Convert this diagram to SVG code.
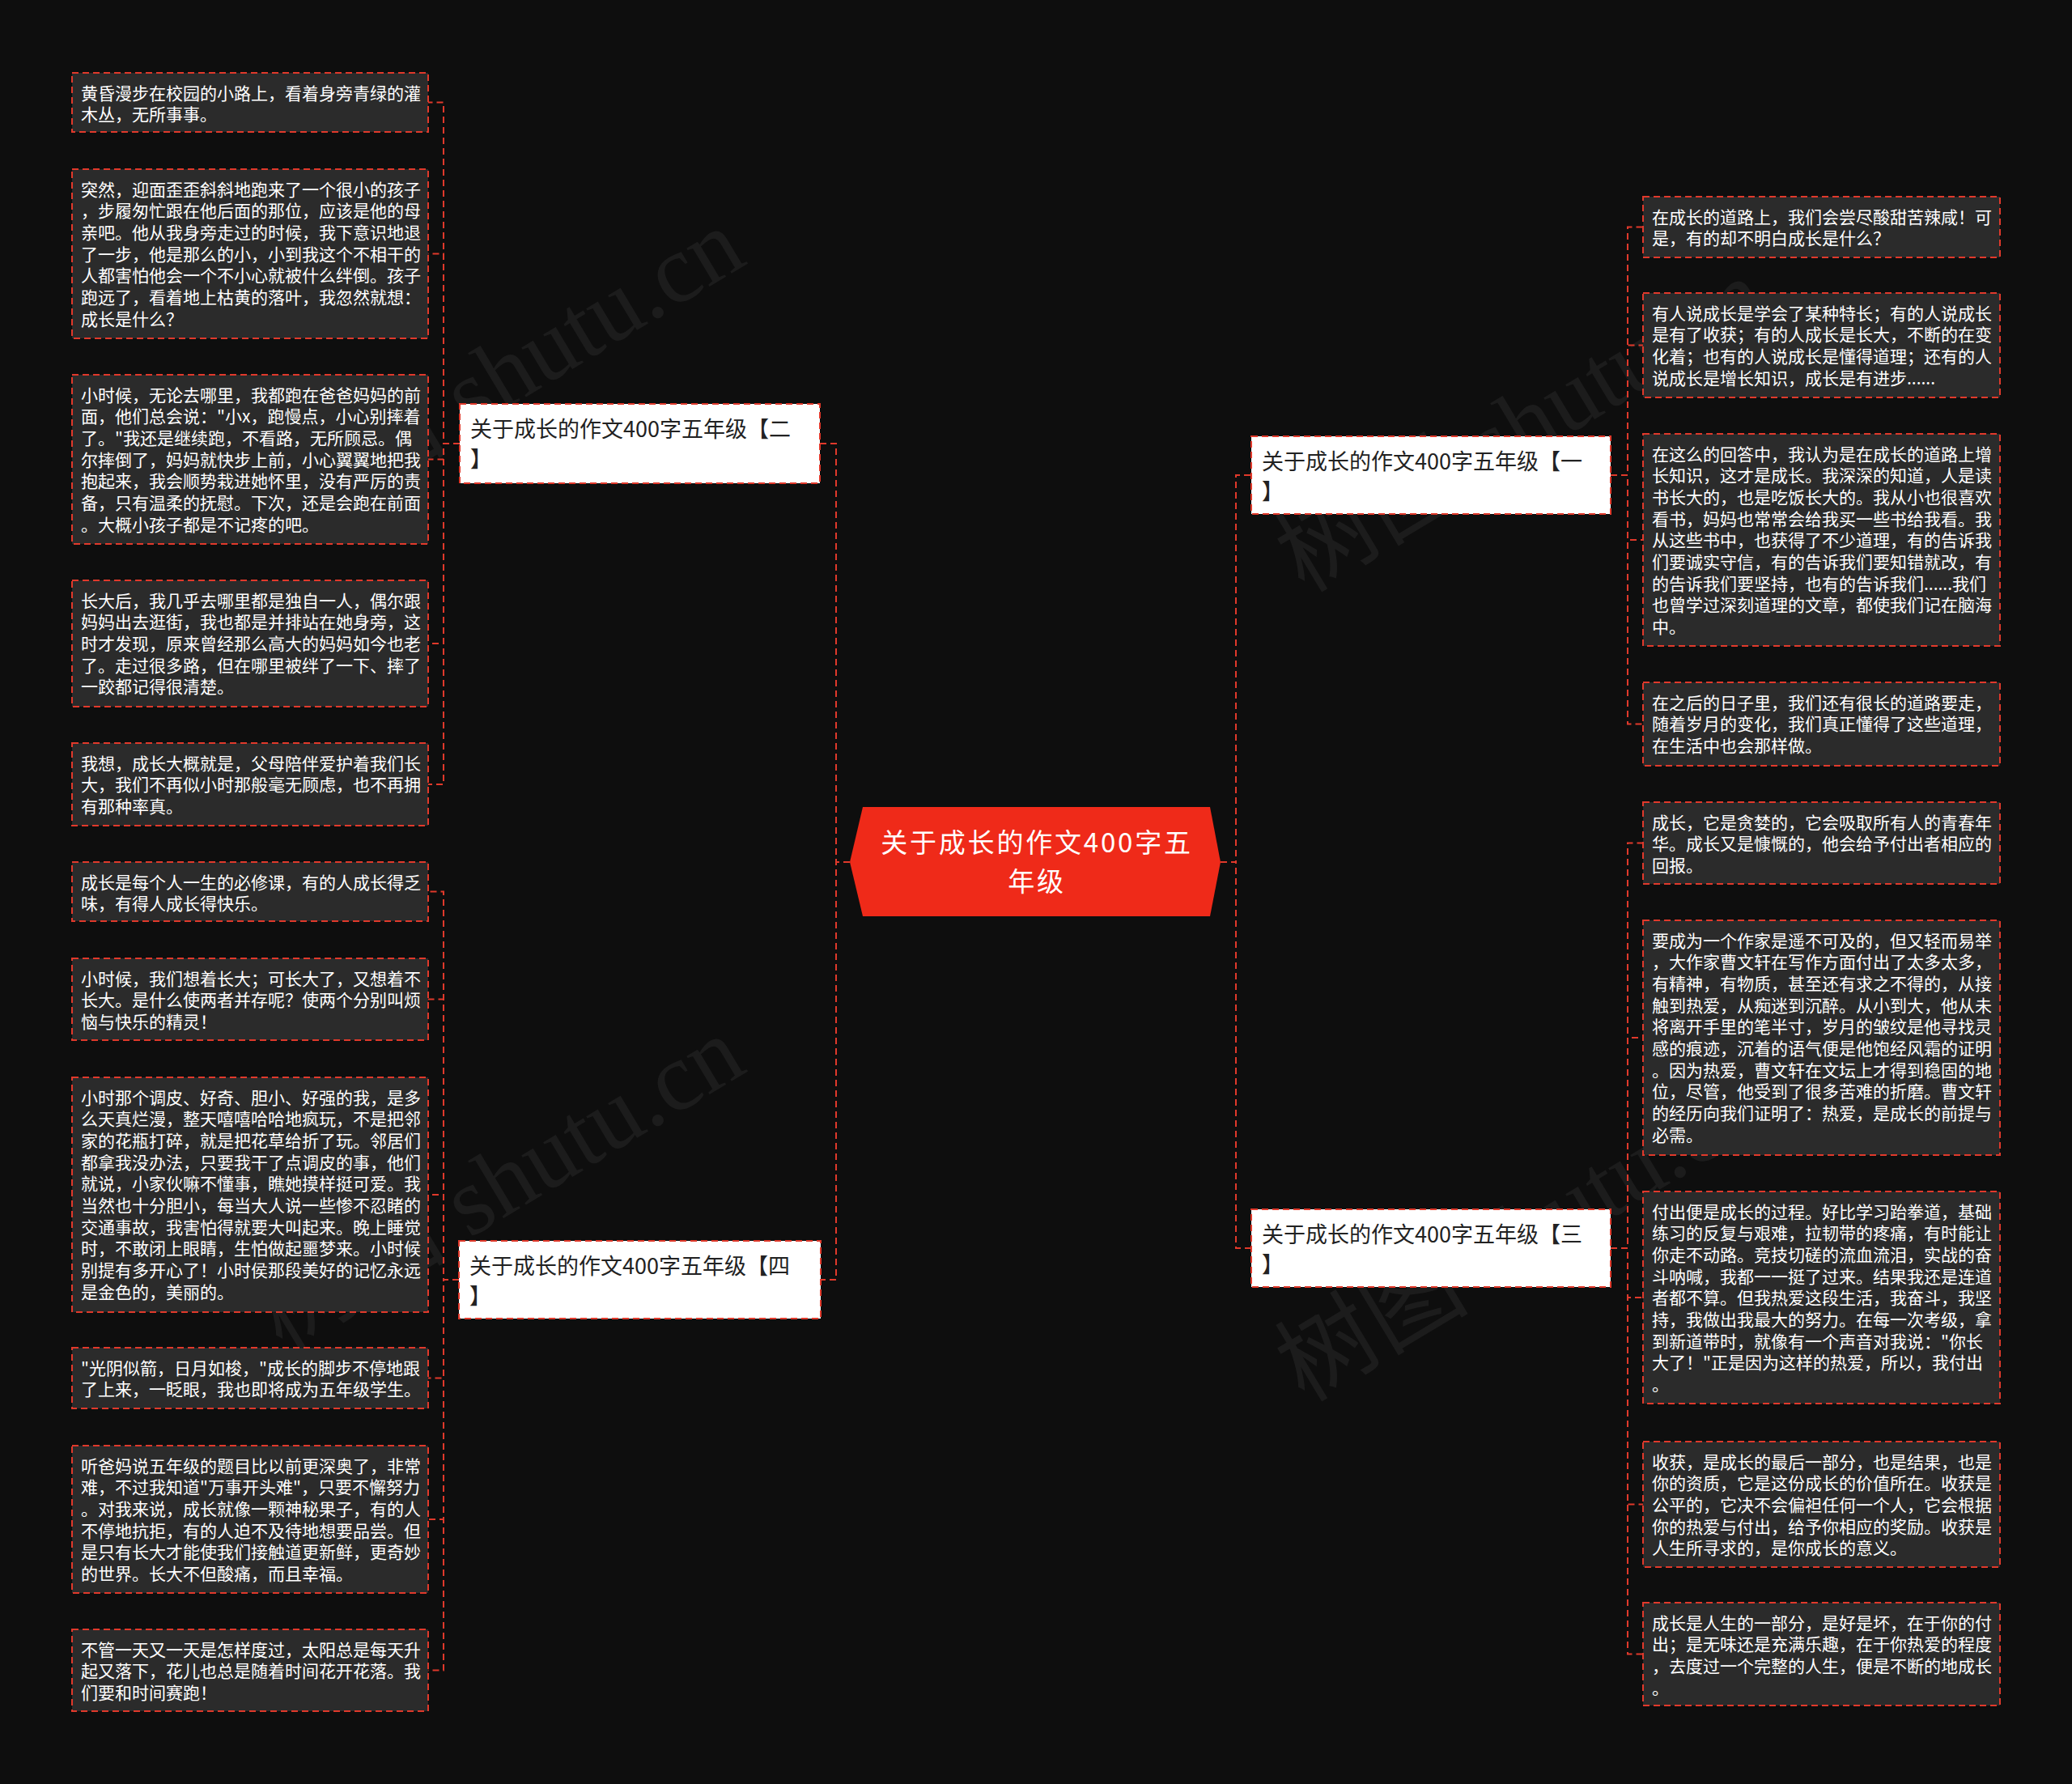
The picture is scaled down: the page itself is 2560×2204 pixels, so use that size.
<svg xmlns="http://www.w3.org/2000/svg" width="2560" height="2204" viewBox="0 0 2560 2204">
<style>
.bg{fill:#0e0e0e}
.wm{fill:#ffffff;fill-opacity:0.06;font-family:"Liberation Serif","Noto Sans CJK SC",serif;font-size:120px}
.leaf rect{fill:#2b2b2b;stroke:#e0392b;stroke-width:2;stroke-dasharray:8 5}
.leaf text{fill:#ffffff;font-family:"Noto Sans CJK SC","Noto Sans",sans-serif;font-size:21px}
.branch rect{fill:#ffffff;stroke:#e0392b;stroke-width:2;stroke-dasharray:8 5}
.branch text{fill:#222222;font-family:"Noto Sans CJK SC","Noto Sans",sans-serif;font-size:27px}
.root polygon{fill:#ef2a19}
.root text{fill:#ffffff;font-family:"Noto Sans CJK SC","Noto Sans",sans-serif;font-size:33px;letter-spacing:2.8px;text-anchor:middle}
.edges path{fill:none;stroke:#e0392b;stroke-width:2;stroke-dasharray:8 5}
</style>
<rect class="bg" x="0" y="0" width="2560" height="2204"/>
<g id="watermarks">
<text class="wm" transform="translate(637,498) rotate(-31)" text-anchor="middle">树图 shutu.cn</text>
<text class="wm" transform="translate(637,1496) rotate(-31)" text-anchor="middle">树图 shutu.cn</text>
<text class="wm" transform="translate(1900,560) rotate(-31)" text-anchor="middle">树图 shutu.cn</text>
<text class="wm" transform="translate(1900,1560) rotate(-31)" text-anchor="middle">树图 shutu.cn</text>
</g>
<g id="connectors" class="edges">
<path d="M1050,1065 H1033 V548 H1013"/>
<path d="M1050,1065 H1033 V1581 H1014"/>
<path d="M1508,1065 H1527 V587 H1546"/>
<path d="M1508,1065 H1527 V1542 H1546"/>
<path d="M568,548 H548 V126.5 H529"/>
<path d="M568,548 H548 V313.5 H529"/>
<path d="M568,548 H548 V567.5 H529"/>
<path d="M568,548 H548 V795 H529"/>
<path d="M568,548 H548 V969 H529"/>
<path d="M567,1581 H548 V1101.5 H529"/>
<path d="M567,1581 H548 V1234.5 H529"/>
<path d="M567,1581 H548 V1476 H529"/>
<path d="M567,1581 H548 V1702.5 H529"/>
<path d="M567,1581 H548 V1877 H529"/>
<path d="M567,1581 H548 V2063.5 H529"/>
<path d="M1990,587 H2011 V280.5 H2030"/>
<path d="M1990,587 H2011 V426.5 H2030"/>
<path d="M1990,587 H2011 V667 H2030"/>
<path d="M1990,587 H2011 V894.5 H2030"/>
<path d="M1990,1542 H2011 V1041.5 H2030"/>
<path d="M1990,1542 H2011 V1282 H2030"/>
<path d="M1990,1542 H2011 V1603 H2030"/>
<path d="M1990,1542 H2011 V1858.5 H2030"/>
<path d="M1990,1542 H2011 V2043.5 H2030"/>
</g>
<g id="root" class="root">
<polygon points="1050,1065 1066,997 1495,997 1508,1065 1495,1132 1066,1132"/>
<text x="1281" y="1053"><tspan x="1281">关于成长的作文400字五</tspan><tspan x="1281" dy="48">年级</tspan></text>
</g>
<g id="b2" class="branch">
<rect x="568" y="499" width="445" height="98"/>
<text x="581" y="540"><tspan x="581">关于成长的作文400字五年级【二</tspan><tspan x="581" dy="37">】</tspan></text>
</g>
<g id="b4" class="branch">
<rect x="567" y="1533" width="447" height="96"/>
<text x="580" y="1574"><tspan x="580">关于成长的作文400字五年级【四</tspan><tspan x="580" dy="37">】</tspan></text>
</g>
<g id="b1" class="branch">
<rect x="1546" y="539" width="444" height="96"/>
<text x="1559" y="580"><tspan x="1559">关于成长的作文400字五年级【一</tspan><tspan x="1559" dy="37">】</tspan></text>
</g>
<g id="b3" class="branch">
<rect x="1546" y="1494" width="444" height="96"/>
<text x="1559" y="1535"><tspan x="1559">关于成长的作文400字五年级【三</tspan><tspan x="1559" dy="37">】</tspan></text>
</g>
<g id="L1" class="leaf">
<rect x="89" y="90" width="440" height="73"/>
<text x="100" y="122.5"><tspan x="100">黄昏漫步在校园的小路上，看着身旁青绿的灌</tspan><tspan x="100" dy="26.7">木丛，无所事事。</tspan></text>
</g>
<g id="L2" class="leaf">
<rect x="89" y="209" width="440" height="209"/>
<text x="100" y="241.5"><tspan x="100">突然，迎面歪歪斜斜地跑来了一个很小的孩子</tspan><tspan x="100" dy="26.7">，步履匆忙跟在他后面的那位，应该是他的母</tspan><tspan x="100" dy="26.7">亲吧。他从我身旁走过的时候，我下意识地退</tspan><tspan x="100" dy="26.7">了一步，他是那么的小，小到我这个不相干的</tspan><tspan x="100" dy="26.7">人都害怕他会一个不小心就被什么绊倒。孩子</tspan><tspan x="100" dy="26.7">跑远了，看着地上枯黄的落叶，我忽然就想：</tspan><tspan x="100" dy="26.7">成长是什么？</tspan></text>
</g>
<g id="L3" class="leaf">
<rect x="89" y="463" width="440" height="209"/>
<text x="100" y="495.5"><tspan x="100">小时候，无论去哪里，我都跑在爸爸妈妈的前</tspan><tspan x="100" dy="26.7">面，他们总会说："小x，跑慢点，小心别摔着</tspan><tspan x="100" dy="26.7">了。"我还是继续跑，不看路，无所顾忌。偶</tspan><tspan x="100" dy="26.7">尔摔倒了，妈妈就快步上前，小心翼翼地把我</tspan><tspan x="100" dy="26.7">抱起来，我会顺势栽进她怀里，没有严厉的责</tspan><tspan x="100" dy="26.7">备，只有温柔的抚慰。下次，还是会跑在前面</tspan><tspan x="100" dy="26.7">。大概小孩子都是不记疼的吧。</tspan></text>
</g>
<g id="L4" class="leaf">
<rect x="89" y="717" width="440" height="156"/>
<text x="100" y="749.5"><tspan x="100">长大后，我几乎去哪里都是独自一人，偶尔跟</tspan><tspan x="100" dy="26.7">妈妈出去逛街，我也都是并排站在她身旁，这</tspan><tspan x="100" dy="26.7">时才发现，原来曾经那么高大的妈妈如今也老</tspan><tspan x="100" dy="26.7">了。走过很多路，但在哪里被绊了一下、摔了</tspan><tspan x="100" dy="26.7">一跤都记得很清楚。</tspan></text>
</g>
<g id="L5" class="leaf">
<rect x="89" y="918" width="440" height="102"/>
<text x="100" y="950.5"><tspan x="100">我想，成长大概就是，父母陪伴爱护着我们长</tspan><tspan x="100" dy="26.7">大，我们不再似小时那般毫无顾虑，也不再拥</tspan><tspan x="100" dy="26.7">有那种率真。</tspan></text>
</g>
<g id="L6" class="leaf">
<rect x="89" y="1065" width="440" height="73"/>
<text x="100" y="1097.5"><tspan x="100">成长是每个人一生的必修课，有的人成长得乏</tspan><tspan x="100" dy="26.7">味，有得人成长得快乐。</tspan></text>
</g>
<g id="L7" class="leaf">
<rect x="89" y="1184" width="440" height="101"/>
<text x="100" y="1216.5"><tspan x="100">小时候，我们想着长大；可长大了，又想着不</tspan><tspan x="100" dy="26.7">长大。是什么使两者并存呢？使两个分别叫烦</tspan><tspan x="100" dy="26.7">恼与快乐的精灵！</tspan></text>
</g>
<g id="L8" class="leaf">
<rect x="89" y="1331" width="440" height="290"/>
<text x="100" y="1363.5"><tspan x="100">小时那个调皮、好奇、胆小、好强的我，是多</tspan><tspan x="100" dy="26.7">么天真烂漫，整天嘻嘻哈哈地疯玩，不是把邻</tspan><tspan x="100" dy="26.7">家的花瓶打碎，就是把花草给折了玩。邻居们</tspan><tspan x="100" dy="26.7">都拿我没办法，只要我干了点调皮的事，他们</tspan><tspan x="100" dy="26.7">就说，小家伙嘛不懂事，瞧她摸样挺可爱。我</tspan><tspan x="100" dy="26.7">当然也十分胆小，每当大人说一些惨不忍睹的</tspan><tspan x="100" dy="26.7">交通事故，我害怕得就要大叫起来。晚上睡觉</tspan><tspan x="100" dy="26.7">时，不敢闭上眼睛，生怕做起噩梦来。小时候</tspan><tspan x="100" dy="26.7">别提有多开心了！小时侯那段美好的记忆永远</tspan><tspan x="100" dy="26.7">是金色的，美丽的。</tspan></text>
</g>
<g id="L9" class="leaf">
<rect x="89" y="1665" width="440" height="75"/>
<text x="100" y="1697.5"><tspan x="100">"光阴似箭，日月如梭，"成长的脚步不停地跟</tspan><tspan x="100" dy="26.7">了上来，一眨眼，我也即将成为五年级学生。</tspan></text>
</g>
<g id="L10" class="leaf">
<rect x="89" y="1786" width="440" height="182"/>
<text x="100" y="1818.5"><tspan x="100">听爸妈说五年级的题目比以前更深奥了，非常</tspan><tspan x="100" dy="26.7">难，不过我知道"万事开头难"，只要不懈努力</tspan><tspan x="100" dy="26.7">。对我来说，成长就像一颗神秘果子，有的人</tspan><tspan x="100" dy="26.7">不停地抗拒，有的人迫不及待地想要品尝。但</tspan><tspan x="100" dy="26.7">是只有长大才能使我们接触道更新鲜，更奇妙</tspan><tspan x="100" dy="26.7">的世界。长大不但酸痛，而且幸福。</tspan></text>
</g>
<g id="L11" class="leaf">
<rect x="89" y="2013" width="440" height="101"/>
<text x="100" y="2045.5"><tspan x="100">不管一天又一天是怎样度过，太阳总是每天升</tspan><tspan x="100" dy="26.7">起又落下，花儿也总是随着时间花开花落。我</tspan><tspan x="100" dy="26.7">们要和时间赛跑！</tspan></text>
</g>
<g id="R1" class="leaf">
<rect x="2030" y="243" width="441" height="75"/>
<text x="2041" y="275.5"><tspan x="2041">在成长的道路上，我们会尝尽酸甜苦辣咸！可</tspan><tspan x="2041" dy="26.7">是，有的却不明白成长是什么？</tspan></text>
</g>
<g id="R2" class="leaf">
<rect x="2030" y="362" width="441" height="129"/>
<text x="2041" y="394.5"><tspan x="2041">有人说成长是学会了某种特长；有的人说成长</tspan><tspan x="2041" dy="26.7">是有了收获；有的人成长是长大，不断的在变</tspan><tspan x="2041" dy="26.7">化着；也有的人说成长是懂得道理；还有的人</tspan><tspan x="2041" dy="26.7">说成长是增长知识，成长是有进步......</tspan></text>
</g>
<g id="R3" class="leaf">
<rect x="2030" y="536" width="441" height="262"/>
<text x="2041" y="568.5"><tspan x="2041">在这么的回答中，我认为是在成长的道路上增</tspan><tspan x="2041" dy="26.7">长知识，这才是成长。我深深的知道，人是读</tspan><tspan x="2041" dy="26.7">书长大的，也是吃饭长大的。我从小也很喜欢</tspan><tspan x="2041" dy="26.7">看书，妈妈也常常会给我买一些书给我看。我</tspan><tspan x="2041" dy="26.7">从这些书中，也获得了不少道理，有的告诉我</tspan><tspan x="2041" dy="26.7">们要诚实守信，有的告诉我们要知错就改，有</tspan><tspan x="2041" dy="26.7">的告诉我们要坚持，也有的告诉我们......我们</tspan><tspan x="2041" dy="26.7">也曾学过深刻道理的文章，都使我们记在脑海</tspan><tspan x="2041" dy="26.7">中。</tspan></text>
</g>
<g id="R4" class="leaf">
<rect x="2030" y="843" width="441" height="103"/>
<text x="2041" y="875.5"><tspan x="2041">在之后的日子里，我们还有很长的道路要走，</tspan><tspan x="2041" dy="26.7">随着岁月的变化，我们真正懂得了这些道理，</tspan><tspan x="2041" dy="26.7">在生活中也会那样做。</tspan></text>
</g>
<g id="R5" class="leaf">
<rect x="2030" y="991" width="441" height="101"/>
<text x="2041" y="1023.5"><tspan x="2041">成长，它是贪婪的，它会吸取所有人的青春年</tspan><tspan x="2041" dy="26.7">华。成长又是慷慨的，他会给予付出者相应的</tspan><tspan x="2041" dy="26.7">回报。</tspan></text>
</g>
<g id="R6" class="leaf">
<rect x="2030" y="1137" width="441" height="290"/>
<text x="2041" y="1169.5"><tspan x="2041">要成为一个作家是遥不可及的，但又轻而易举</tspan><tspan x="2041" dy="26.7">，大作家曹文轩在写作方面付出了太多太多，</tspan><tspan x="2041" dy="26.7">有精神，有物质，甚至还有求之不得的，从接</tspan><tspan x="2041" dy="26.7">触到热爱，从痴迷到沉醉。从小到大，他从未</tspan><tspan x="2041" dy="26.7">将离开手里的笔半寸，岁月的皱纹是他寻找灵</tspan><tspan x="2041" dy="26.7">感的痕迹，沉着的语气便是他饱经风霜的证明</tspan><tspan x="2041" dy="26.7">。因为热爱，曹文轩在文坛上才得到稳固的地</tspan><tspan x="2041" dy="26.7">位，尽管，他受到了很多苦难的折磨。曹文轩</tspan><tspan x="2041" dy="26.7">的经历向我们证明了：热爱，是成长的前提与</tspan><tspan x="2041" dy="26.7">必需。</tspan></text>
</g>
<g id="R7" class="leaf">
<rect x="2030" y="1472" width="441" height="262"/>
<text x="2041" y="1504.5"><tspan x="2041">付出便是成长的过程。好比学习跆拳道，基础</tspan><tspan x="2041" dy="26.7">练习的反复与艰难，拉韧带的疼痛，有时能让</tspan><tspan x="2041" dy="26.7">你走不动路。竞技切磋的流血流泪，实战的奋</tspan><tspan x="2041" dy="26.7">斗呐喊，我都一一挺了过来。结果我还是连道</tspan><tspan x="2041" dy="26.7">者都不算。但我热爱这段生活，我奋斗，我坚</tspan><tspan x="2041" dy="26.7">持，我做出我最大的努力。在每一次考级，拿</tspan><tspan x="2041" dy="26.7">到新道带时，就像有一个声音对我说："你长</tspan><tspan x="2041" dy="26.7">大了！"正是因为这样的热爱，所以，我付出</tspan><tspan x="2041" dy="26.7">。</tspan></text>
</g>
<g id="R8" class="leaf">
<rect x="2030" y="1781" width="441" height="155"/>
<text x="2041" y="1813.5"><tspan x="2041">收获，是成长的最后一部分，也是结果，也是</tspan><tspan x="2041" dy="26.7">你的资质，它是这份成长的价值所在。收获是</tspan><tspan x="2041" dy="26.7">公平的，它决不会偏袒任何一个人，它会根据</tspan><tspan x="2041" dy="26.7">你的热爱与付出，给予你相应的奖励。收获是</tspan><tspan x="2041" dy="26.7">人生所寻求的，是你成长的意义。</tspan></text>
</g>
<g id="R9" class="leaf">
<rect x="2030" y="1980" width="441" height="127"/>
<text x="2041" y="2012.5"><tspan x="2041">成长是人生的一部分，是好是坏，在于你的付</tspan><tspan x="2041" dy="26.7">出；是无味还是充满乐趣，在于你热爱的程度</tspan><tspan x="2041" dy="26.7">，去度过一个完整的人生，便是不断的地成长</tspan><tspan x="2041" dy="26.7">。</tspan></text>
</g>
</svg>
